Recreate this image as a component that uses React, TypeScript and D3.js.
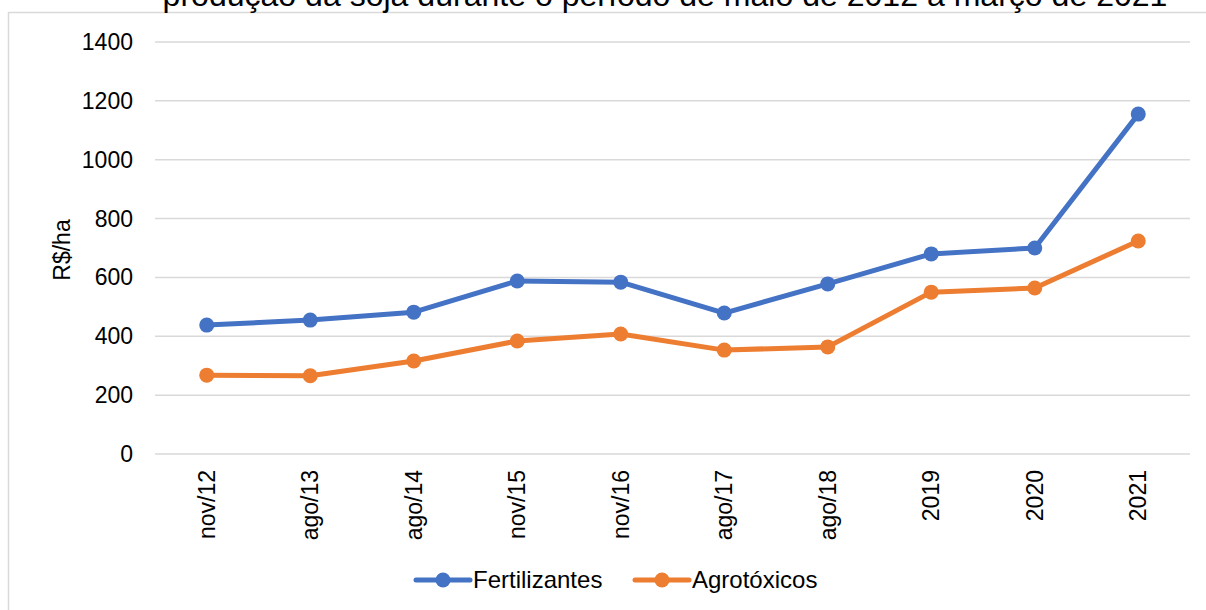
import React, { useEffect, useRef } from "react";
import * as d3 from "d3";

const title = "produção da soja durante o período de maio de 2012 a março de 2021";
const categories = ["nov/12", "ago/13", "ago/14", "nov/15", "nov/16", "ago/17", "ago/18", "2019", "2020", "2021"];
const fertilizantes = [438, 455, 482, 588, 584, 479, 578, 680, 700, 1155];
const agrotoxicos = [268, 266, 316, 384, 408, 353, 364, 550, 564, 724];
const yTicks = [0, 200, 400, 600, 800, 1000, 1200, 1400];

const W = 1206;
const H = 610;
const FONT = "Liberation Sans, Arial, sans-serif";
const FS = 23;

const App = () => {
  const ref = useRef<SVGSVGElement>(null);

  useEffect(() => {
    drawChart();
  }, []);

  function drawChart() {
    const svg = d3.select(ref.current);
    svg.selectAll("*").remove();

    const left = 155, right = 1190, top = 42, bottom = 454;

    // frame of the chart area
    svg
      .append("rect")
      .attr("x", 8.5)
      .attr("y", 12.5)
      .attr("width", W + 20)
      .attr("height", H + 20)
      .attr("fill", "#fff")
      .attr("stroke", "#d9d9d9")
      .attr("stroke-width", 1.5);

    // title, cut by the top edge - sized to span the same width as the reference
    const t = svg
      .append("text")
      .attr("x", 665)
      .attr("y", 6)
      .attr("text-anchor", "middle")
      .attr("font-family", FONT)
      .attr("font-size", 28)
      .attr("fill", "#000")
      .text(title);
    const len = (t.node() as SVGTextElement).getComputedTextLength();
    if (len > 0) t.attr("font-size", (28 * 1005) / len);

    const x = d3.scaleBand().domain(categories).range([left, right]);
    const y = d3.scaleLinear().domain([0, 1400]).range([bottom, top]);

    // gridlines + y labels
    const g = svg.append("g");
    g.selectAll("line.grid")
      .data(yTicks)
      .join("line")
      .attr("x1", left)
      .attr("x2", right)
      .attr("y1", (d) => y(d))
      .attr("y2", (d) => y(d))
      .attr("stroke", "#d9d9d9")
      .attr("stroke-width", 1.5);

    g.selectAll("text.ylab")
      .data(yTicks)
      .join("text")
      .attr("x", 133)
      .attr("y", (d) => y(d))
      .attr("dy", "0.35em")
      .attr("text-anchor", "end")
      .attr("font-family", FONT)
      .attr("font-size", FS)
      .attr("fill", "#000")
      .text((d) => d);

    // y axis title
    svg
      .append("text")
      .attr("transform", `translate(70,250) rotate(-90)`)
      .attr("text-anchor", "middle")
      .attr("font-family", FONT)
      .attr("font-size", FS)
      .attr("fill", "#000")
      .text("R$/ha");

    // x labels rotated
    g.selectAll("text.xlab")
      .data(categories)
      .join("text")
      .attr("transform", (d) => `translate(${x(d)! + x.bandwidth() / 2 + 8},${bottom + 16}) rotate(-90)`)
      .attr("text-anchor", "end")
      .attr("font-family", FONT)
      .attr("font-size", FS)
      .attr("fill", "#000")
      .text((d) => d);

    const series = [
      { name: "Fertilizantes", values: fertilizantes, color: "#4472C4" },
      { name: "Agrotóxicos", values: agrotoxicos, color: "#ED7D31" },
    ];

    const line = d3
      .line<number>()
      .x((_, i) => x(categories[i])! + x.bandwidth() / 2)
      .y((d) => y(d));

    series.forEach((s) => {
      svg
        .append("path")
        .datum(s.values)
        .attr("d", line)
        .attr("fill", "none")
        .attr("stroke", s.color)
        .attr("stroke-width", 5)
        .attr("stroke-linejoin", "round")
        .attr("stroke-linecap", "round");

      svg
        .selectAll(null)
        .data(s.values)
        .join("circle")
        .attr("cx", (_, i) => x(categories[i])! + x.bandwidth() / 2)
        .attr("cy", (d) => y(d))
        .attr("r", 7.5)
        .attr("fill", s.color);
    });

    // legend
    const legendX = [416, 635];
    series.forEach((s, i) => {
      const lg = svg.append("g").attr("transform", `translate(${legendX[i]},580)`);
      lg.append("line")
        .attr("x1", 0)
        .attr("x2", 54)
        .attr("stroke", s.color)
        .attr("stroke-width", 5)
        .attr("stroke-linecap", "round");
      lg.append("circle").attr("cx", 27).attr("r", 7.5).attr("fill", s.color);
      lg.append("text")
        .attr("x", 57)
        .attr("dy", "0.35em")
        .attr("font-family", FONT)
        .attr("font-size", 24)
        .attr("fill", "#000")
        .text(s.name);
    });
  }

  return (
    <svg
      ref={ref}
      width={W}
      height={H}
      style={{ position: "absolute", left: 0, top: 0, background: "#fff" }}
    />
  );
};

export default App;
